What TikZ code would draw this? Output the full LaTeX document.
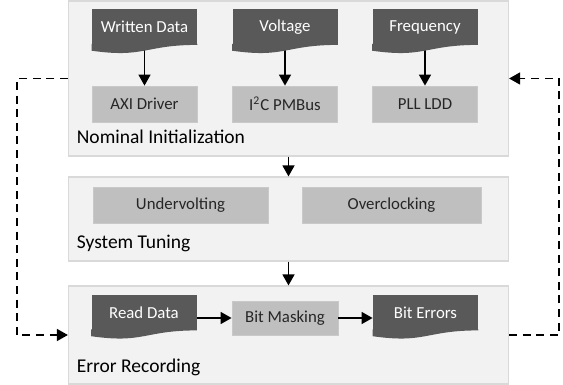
\documentclass[tikz,border=0pt]{standalone}
\usepackage{fontspec}
\setmainfont{Carlito}
\usetikzlibrary{arrows.meta,calc}

\definecolor{panelfill}{HTML}{F2F2F2}
\definecolor{panelline}{HTML}{D9D9D9}
\definecolor{docgray}{HTML}{595959}
\definecolor{boxgray}{HTML}{BFBFBF}
\definecolor{txtgray}{HTML}{262626}

\begin{document}
\begin{tikzpicture}[
  x=0.5pt, y=-0.5pt,
  panel/.style={draw=panelline, fill=panelfill, line width=0.6pt, minimum width=220pt, inner sep=0pt},
  doc/.style={fill=docgray, text=white, minimum width=52.5pt, minimum height=17.5pt, inner sep=0pt, font=\fontsize{8.4}{10}\selectfont},
  blk/.style={fill=boxgray, draw=boxgray!85!white, line width=0.4pt, text=txtgray, minimum width=52.5pt, minimum height=18pt, inner sep=0pt, font=\fontsize{8.4}{10}\selectfont},
  lbl/.style={anchor=west, inner sep=0pt, text=black, font=\fontsize{9.75}{11.7}\selectfont},
  arr/.style={-{Triangle[length=5.5pt,width=6pt]}, line width=0.75pt},
  darr/.style={arr, dash pattern=on 4pt off 2.8pt}
]
\useasboundingbox (0,0) rectangle (563,385);

% the three stages
\node[panel, minimum height=77.5pt] (init) at (288.5,78.5) {};
\node[panel, minimum height=42pt] (tune) at (288.5,219) {};
\node[panel, minimum height=49pt] (rec) at (288.5,335) {};

% nominal initialization
\node[doc] (wdata) at (144.5,27) {Written Data};
\node[doc] (volt) at (285,27) {Voltage};
\node[doc] (freq) at (425,27) {Frequency};
\node[blk] (axi) at (144.5,104) {AXI Driver};
\node[blk] (pmbus) at (285,104) {I\textsuperscript{2}C PMBus};
\node[blk] (pll) at (425,104) {PLL LDD};
\node[lbl] (initlbl) at (76.5,137) {Nominal Initialization};

% system tuning
\node[blk, minimum width=87.5pt] (uv) at (180.5,205) {Undervolting};
\node[blk, minimum width=89.5pt] (oc) at (391.5,205) {Overclocking};
\node[lbl] (tunelbl) at (76.5,243) {System Tuning};

% error recording
\node[doc] (rdata) at (144,312.5) {Read Data};
\node[blk, minimum width=53pt, minimum height=17pt] (mask) at (285,318) {Bit Masking};
\node[doc] (berr) at (425.5,312.5) {Bit Errors};
\node[lbl] (reclbl) at (76.5,367) {Error Recording};

\foreach \a/\b in {wdata/axi, volt/pmbus, freq/pll}
  \draw[arr] (\a.south) -- (\b.north);
\draw[arr] (init.south) -- (tune.north);
\draw[arr] (tune.south) -- (rec.north);
\draw[arr] (rdata.east |- mask) -- (mask);
\draw[arr] (mask) -- (berr.west |- mask);

% feedback loop
\coordinate (lft) at (17,78.5);
\coordinate (rgt) at (559,78.5);
\draw[darr] (init.west) -- (lft) |- (rec.west);
\draw[darr] (rec.east) -| (rgt) -- (init.east);

% wavy bottoms of the documents
\foreach \d in {wdata,volt,freq,rdata,berr}
  \fill[docgray] ($(\d.south east)+(0,-1)$) -- (\d.south east)
    .. controls (\d.south) and ($(\d.south)+(0,13.4)$) .. ($(\d.south west)+(0,5.8)$)
    -- ($(\d.south west)+(0,-1)$) -- cycle;
\end{tikzpicture}
\end{document}
